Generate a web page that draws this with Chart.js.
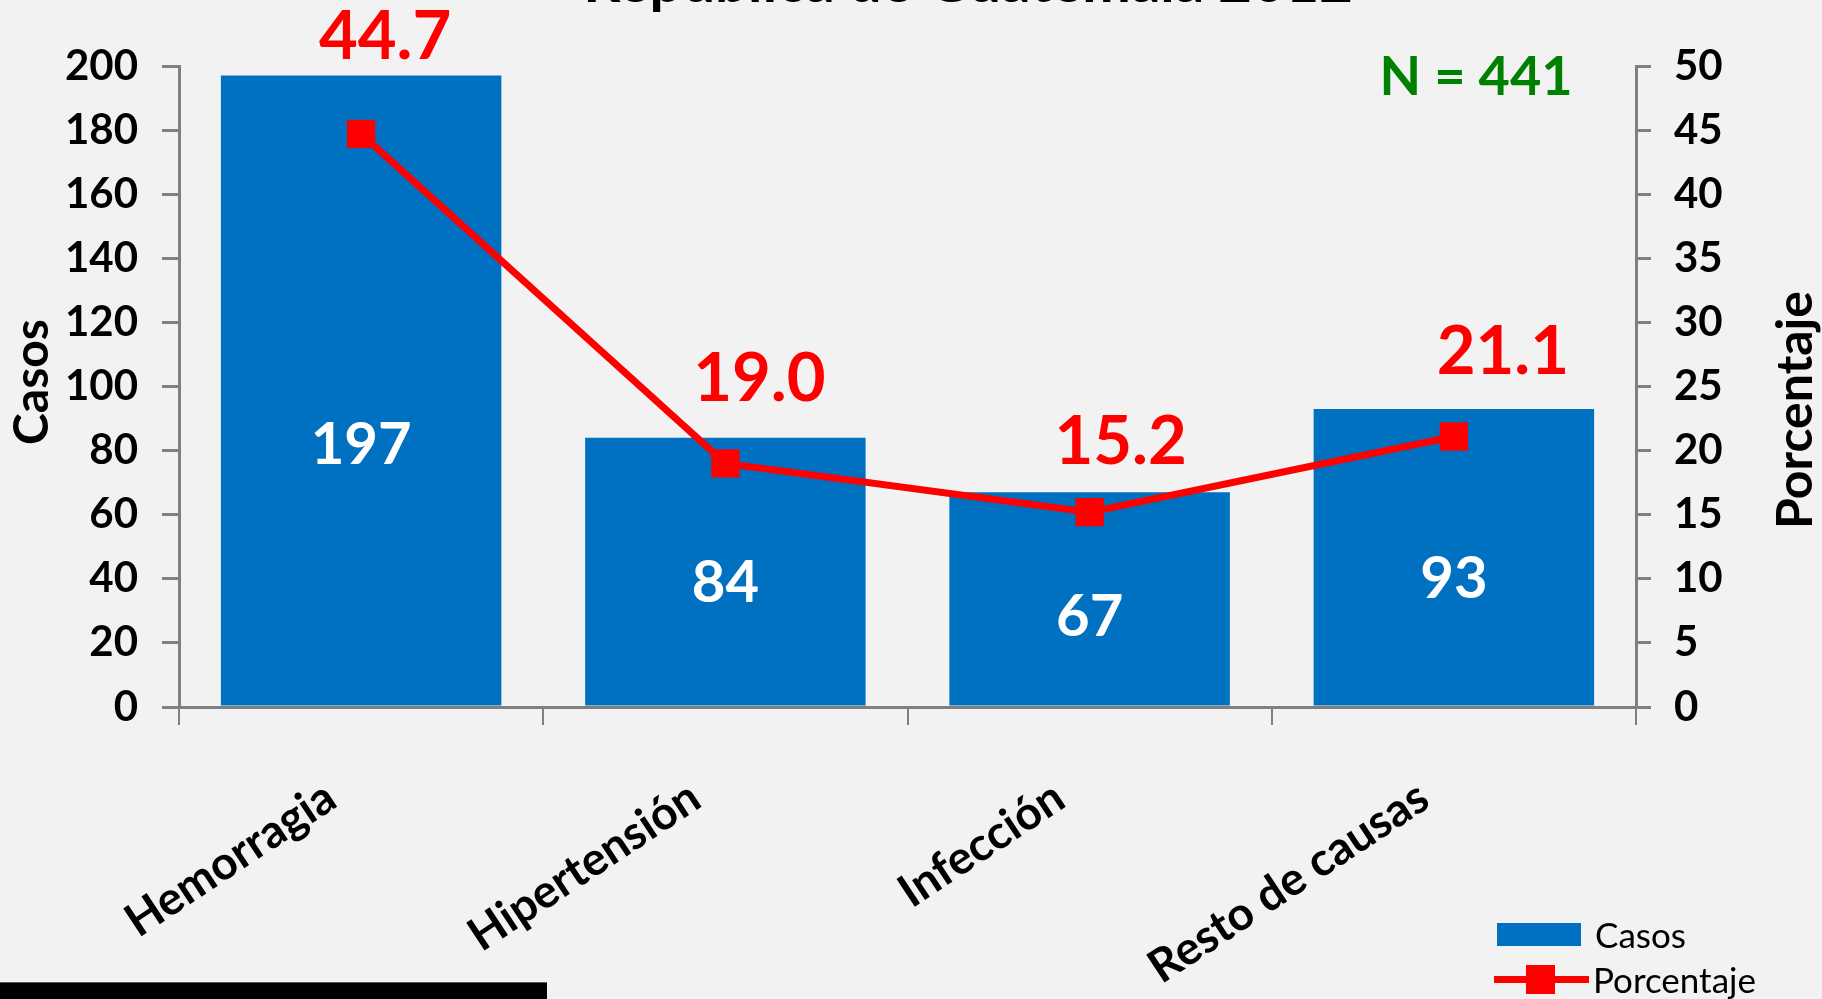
<!DOCTYPE html>
<html>
<head>
<meta charset="utf-8">
<script src="https://cdn.jsdelivr.net/npm/chart.js@4.4.1/dist/chart.umd.min.js"></script>
<style>
html,body{margin:0;padding:0;background:#F2F2F2;overflow:hidden;}
#wrap{position:relative;width:1822px;height:999px;background:#F2F2F2;}
#c{position:absolute;left:0;top:0;}
#blk{position:absolute;left:0;top:982px;width:547px;height:17px;background:#000;border-top:1px solid #555;}
</style>
</head>
<body>
<div id="wrap"><canvas id="c" width="1822" height="999"></canvas><div id="blk"></div></div>
<script>
// ---- data ----
const categories = ['Hemorragia', 'Hipertensión', 'Infección', 'Resto de causas'];
const casos = [197, 84, 67, 93];
const porcentaje = [44.7, 19.0, 15.2, 21.1];
const titleText = 'República de Guatemala 2012';
const totalText = 'N = 441';
const seriesNames = ['Casos', 'Porcentaje'];
const yLeftTitle = 'Casos';
const yRightTitle = 'Porcentaje';

// ---- styles ----
const BLUE = '#0070C0', RED = '#FF0000', GRAY = '#808080', GREEN = '#008000';
const FONT = 'Lato';

const annot = {
  id: 'annot',
  afterDatasetsDraw(chart, args, o) {
    const ctx = chart.ctx;
    const lineMeta = chart.getDatasetMeta(0);
    const barMeta = chart.getDatasetMeta(1);
    ctx.save();
    ctx.textAlign = 'center';
    ctx.textBaseline = 'alphabetic';
    // values inside bars
    ctx.fillStyle = '#FFFFFF';
    ctx.font = 'bold ' + o.barFont + 'px ' + FONT;
    barMeta.data.forEach((b, i) => {
      const mid = (b.y + b.base) / 2 + o.barDy[i];
      ctx.fillText(String(casos[i]), b.x, mid + 0.36 * o.barFont);
    });
    // percentage labels
    ctx.fillStyle = RED;
    ctx.font = 'bold ' + o.pctFont + 'px ' + FONT;
    lineMeta.data.forEach((p, i) => {
      ctx.fillText(porcentaje[i].toFixed(1), p.x + o.pctDx[i], p.y + o.pctDy[i] + 0.36 * o.pctFont);
    });
    ctx.restore();
  },
  afterDraw(chart, args, o) {
    const ctx = chart.ctx;
    ctx.save();
    // title (cut off at top)
    ctx.fillStyle = '#000';
    ctx.textAlign = 'center';
    ctx.textBaseline = 'alphabetic';
    ctx.font = 'bold 58px ' + FONT;
    ctx.fillText(titleText, 968, 2);
    // N = 441
    ctx.fillStyle = GREEN;
    ctx.font = 'bold 54px ' + FONT;
    ctx.fillText(totalText, 1476, 76 + 0.36 * 54);
    // axis titles
    ctx.fillStyle = '#000';
    ctx.font = 'bold 48px ' + FONT;
    ctx.save();
    ctx.translate(48, 382);
    ctx.rotate(-Math.PI / 2);
    ctx.fillText(yLeftTitle, 0, 0);
    ctx.restore();
    ctx.font = 'bold 50px ' + FONT;
    ctx.save();
    ctx.translate(1812, 410);
    ctx.rotate(-Math.PI / 2);
    ctx.fillText(yRightTitle, 0, 0);
    ctx.restore();
    // legend
    const barDs = chart.data.datasets[1], lineDs = chart.data.datasets[0];
    ctx.fillStyle = barDs.backgroundColor;
    ctx.fillRect(1497, 923, 84, 23);
    ctx.strokeStyle = lineDs.borderColor;
    ctx.lineWidth = 7;
    ctx.beginPath();
    ctx.moveTo(1494, 979.5);
    ctx.lineTo(1589, 979.5);
    ctx.stroke();
    ctx.fillStyle = lineDs.backgroundColor;
    ctx.fillRect(1526, 965, 29, 29);
    ctx.fillStyle = '#000';
    ctx.textAlign = 'left';
    ctx.font = '35px ' + FONT;
    ctx.fillText(barDs.label, 1595, 948);
    ctx.fillText(lineDs.label, 1593, 993);
    ctx.restore();
  }
};

function build() {
  const ctx = document.getElementById('c').getContext('2d');
  new Chart(ctx, {
    data: {
      labels: categories,
      datasets: [
        {
          type: 'line', label: seriesNames[1], data: porcentaje, yAxisID: 'y1',
          borderColor: RED, backgroundColor: RED, borderWidth: 7,
          pointStyle: 'rect', pointRadius: 20, pointHoverRadius: 20,
          pointBackgroundColor: RED, pointBorderColor: RED, pointBorderWidth: 0,
          tension: 0, order: 0
        },
        {
          type: 'bar', label: seriesNames[0], data: casos, yAxisID: 'y',
          backgroundColor: BLUE, borderWidth: 0,
          barPercentage: 0.77, categoryPercentage: 1.0, order: 1
        }
      ]
    },
    options: {
      responsive: false,
      animation: false,
      devicePixelRatio: 1,
      layout: { padding: { top: 66, left: 0, right: 0, bottom: 0 } },
      plugins: {
        legend: { display: false },
        tooltip: { enabled: false },
        title: { display: false },
        annot: {
          barFont: 58, barDy: [53, 9, 16, 20],
          pctFont: 67, pctDx: [24, 34, 31, 49], pctDy: [-99, -87, -72, -87]
        }
      },
      scales: {
        x: {
          position: 'bottom',
          offset: true,
          grid: { offset: true, drawOnChartArea: false, drawTicks: true, tickLength: 18, color: GRAY, lineWidth: 2 },
          border: { display: true, color: GRAY, width: 3 },
          ticks: {
            autoSkip: false, minRotation: 33.5, maxRotation: 33.5, padding: 45, labelOffset: -30,
            color: '#000', font: { family: FONT, weight: 'bold', size: 46 }
          },
          afterFit(s) { s.height = 292; }
        },
        y: {
          position: 'left', min: 0, max: 200,
          ticks: { stepSize: 20, padding: 24, color: '#000', font: { family: FONT, weight: 'bold', size: 42 } },
          grid: { drawOnChartArea: false, tickLength: 17, color: GRAY, lineWidth: 3 },
          border: { display: true, color: GRAY, width: 3 },
          afterFit(s) { s.width = 179; }
        },
        y1: {
          position: 'right', min: 0, max: 50,
          ticks: { stepSize: 5, padding: 23, color: '#000', font: { family: FONT, weight: 'bold', size: 42 } },
          grid: { drawOnChartArea: false, tickLength: 15, color: GRAY, lineWidth: 3 },
          border: { display: true, color: GRAY, width: 3 },
          afterFit(s) { s.width = 186; }
        }
      }
    },
    plugins: [annot]
  });
}

const fontLoads = document.fonts ? Promise.all([
  document.fonts.load('bold 40px Lato'),
  document.fonts.load('40px Lato')
]).catch(() => {}) : Promise.resolve();
fontLoads.then(build, build);
</script>
</body>
</html>
